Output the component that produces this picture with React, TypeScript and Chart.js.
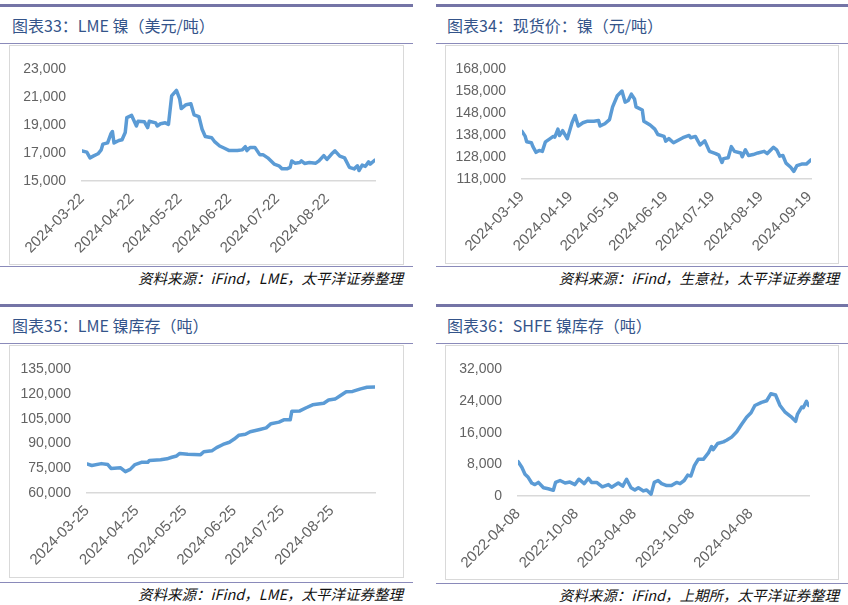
import React, { useEffect, useRef } from 'react';
import { Chart, registerables } from 'chart.js';
Chart.register(...registerables);

// ---------- Panel 33: LME nickel (USD/t) ----------
const lmeDates = ['2024-03-22','2024-03-25','2024-03-27','2024-03-29','2024-04-01','2024-04-03','2024-04-04','2024-04-07','2024-04-09','2024-04-10','2024-04-11','2024-04-14','2024-04-16','2024-04-18','2024-04-19','2024-04-22','2024-04-25','2024-04-26','2024-04-30','2024-05-02','2024-05-03','2024-05-07','2024-05-08','2024-05-10','2024-05-13','2024-05-15','2024-05-17','2024-05-20','2024-05-22','2024-05-23','2024-05-26','2024-05-29','2024-05-31','2024-06-03','2024-06-05','2024-06-07','2024-06-11','2024-06-13','2024-06-16','2024-06-19','2024-06-22','2024-06-27','2024-06-30','2024-07-02','2024-07-03','2024-07-05','2024-07-08','2024-07-11','2024-07-13','2024-07-16','2024-07-20','2024-07-23','2024-07-25','2024-07-28','2024-07-30','2024-07-31','2024-08-02','2024-08-05','2024-08-06','2024-08-08','2024-08-11','2024-08-15','2024-08-17','2024-08-20','2024-08-22','2024-08-25','2024-08-27','2024-08-30','2024-09-02','2024-09-05','2024-09-08','2024-09-10','2024-09-11','2024-09-13','2024-09-15','2024-09-17','2024-09-18','2024-09-21'];
const lmeValues = [17160,17070,16660,16780,16950,17230,17640,17730,18370,18550,17730,17900,17960,18480,19550,19700,18940,19280,19240,18830,19280,19170,18940,19100,19170,19060,21100,21490,20880,20190,20470,20540,19740,19620,18710,18190,18100,17800,17510,17350,17180,17180,17230,17460,17180,17410,17410,16890,16890,16660,16210,16090,15870,15870,15980,16440,16280,16320,16440,16260,16320,16280,16440,16820,16550,16950,17160,16780,16660,15980,15870,16090,15750,16140,16050,16370,16210,16500];
const lmeTicks = ['2024-03-22','2024-04-22','2024-05-22','2024-06-22','2024-07-22','2024-08-22'];

// ---------- Panel 34: spot price nickel (CNY/t) ----------
const spotDates = ['2024-03-19','2024-03-21','2024-03-22','2024-03-25','2024-03-26','2024-03-28','2024-03-30','2024-04-01','2024-04-03','2024-04-06','2024-04-08','2024-04-09','2024-04-11','2024-04-12','2024-04-14','2024-04-17','2024-04-20','2024-04-22','2024-04-24','2024-04-27','2024-04-30','2024-05-04','2024-05-07','2024-05-08','2024-05-11','2024-05-14','2024-05-16','2024-05-19','2024-05-22','2024-05-24','2024-05-26','2024-05-28','2024-05-30','2024-05-31','2024-06-04','2024-06-05','2024-06-09','2024-06-12','2024-06-14','2024-06-18','2024-06-19','2024-06-21','2024-06-24','2024-06-27','2024-06-30','2024-07-04','2024-07-05','2024-07-08','2024-07-11','2024-07-14','2024-07-17','2024-07-21','2024-07-23','2024-07-25','2024-07-26','2024-07-29','2024-07-31','2024-08-02','2024-08-06','2024-08-07','2024-08-09','2024-08-11','2024-08-14','2024-08-17','2024-08-21','2024-08-23','2024-08-27','2024-08-29','2024-08-31','2024-09-02','2024-09-04','2024-09-07','2024-09-09','2024-09-11','2024-09-14','2024-09-17','2024-09-20'];
const spotValues = [139700,137560,134960,134520,132780,130170,131040,130610,134960,136410,137420,137130,140750,137860,140030,136410,143650,146990,142200,143650,144380,144380,144670,142200,143220,145100,150900,155970,158140,153070,153800,156700,154520,150900,149450,144380,142640,140750,138290,137420,135250,136410,134520,135680,136840,137860,136840,137420,133510,135390,130610,129590,128870,125540,127280,127710,132780,130610,129880,128140,131330,128720,129160,129880,130610,129590,132490,131330,128430,128720,125240,123360,121480,124090,124810,124810,126700];
const spotTicks = ['2024-03-19','2024-04-19','2024-05-19','2024-06-19','2024-07-19','2024-08-19','2024-09-19'];

// ---------- Panel 35: LME nickel inventory (t) ----------
const invDates = ['2024-03-25','2024-03-28','2024-04-03','2024-04-07','2024-04-09','2024-04-15','2024-04-18','2024-04-21','2024-04-24','2024-04-28','2024-05-02','2024-05-03','2024-05-10','2024-05-14','2024-05-17','2024-05-20','2024-05-22','2024-05-27','2024-06-04','2024-06-06','2024-06-11','2024-06-14','2024-06-18','2024-06-22','2024-06-25','2024-06-28','2024-07-02','2024-07-05','2024-07-11','2024-07-15','2024-07-18','2024-07-23','2024-07-26','2024-07-30','2024-07-31','2024-08-05','2024-08-09','2024-08-13','2024-08-20','2024-08-23','2024-08-27','2024-08-30','2024-09-03','2024-09-07','2024-09-12','2024-09-16','2024-09-21'];
const invValues = [77640,76670,77830,77250,74920,75310,72980,74340,77250,78600,78600,79770,80160,80740,81710,82480,84030,83450,83260,85000,85580,87520,89460,90810,92750,95080,95660,97210,98570,99540,102060,103020,104380,104380,109610,109810,111740,113490,114460,116400,116980,118910,121430,121630,123180,124150,124340];
const invTicks = ['2024-03-25','2024-04-25','2024-05-25','2024-06-25','2024-07-25','2024-08-25'];

// ---------- Panel 36: SHFE nickel inventory (t) ----------
const shfeDates = ['2022-04-08','2022-04-20','2022-04-30','2022-05-10','2022-05-21','2022-05-31','2022-06-11','2022-06-27','2022-07-12','2022-07-28','2022-08-04','2022-08-18','2022-09-03','2022-09-18','2022-10-04','2022-10-16','2022-11-02','2022-11-15','2022-11-25','2022-12-11','2022-12-29','2023-01-17','2023-01-27','2023-02-17','2023-03-03','2023-03-15','2023-03-29','2023-04-10','2023-04-21','2023-05-07','2023-05-17','2023-05-31','2023-06-10','2023-06-22','2023-07-03','2023-07-19','2023-08-03','2023-08-19','2023-08-30','2023-09-12','2023-09-23','2023-10-03','2023-10-14','2023-10-26','2023-11-11','2023-11-27','2023-12-07','2023-12-12','2023-12-26','2024-01-13','2024-01-23','2024-02-08','2024-02-24','2024-03-10','2024-03-26','2024-04-09','2024-04-21','2024-05-12','2024-05-28','2024-06-10','2024-06-25','2024-07-09','2024-07-24','2024-08-12','2024-08-27','2024-09-02','2024-09-15','2024-09-20','2024-09-30','2024-10-07'];
const shfeValues = [8720,7280,5520,4720,3280,2880,3440,2080,1840,1440,3440,3920,3280,3520,2880,4240,3120,4480,3440,3440,2320,2880,2240,3280,2480,4240,2080,1520,2080,1280,1520,480,3440,3920,3120,2640,2640,3440,3120,3920,5280,5040,7680,9280,9280,10880,12480,11680,13280,13680,14080,14880,16240,18080,19920,21040,22880,23680,24080,25840,25520,22880,21280,20080,18880,20720,22480,22320,23920,22880];
const shfeTicks = ['2022-04-08','2022-10-08','2023-04-08','2023-10-08','2024-04-08'];

const DAY = 86400000;
const dayNum = (d: string) => {
  const [y, m, dd] = d.split('-').map(Number);
  return Date.UTC(y, m - 1, dd) / DAY;
};
const dayStr = (n: number) => new Date(Math.round(n) * DAY).toISOString().slice(0, 10);

const Y_FONT = { family: '"Liberation Sans", Arial, sans-serif', size: 14 };
const X_FONT = { family: '"Liberation Sans", Arial, sans-serif', size: 15 };
const TICK_COLOR = '#636363';

type Box = { left: number; top: number; right: number; bottom: number };

function LineChart(props: {
  dates: string[]; values: number[]; ticks: string[];
  xMin: string; xMax: string; yMin: number; yMax: number; yStep: number;
  box: Box; plot: Box;
}) {
  const ref = useRef<HTMLCanvasElement | null>(null);
  const { dates, values, ticks, xMin, xMax, yMin, yMax, yStep, box, plot } = props;
  const w = box.right - box.left;
  const h = box.bottom - box.top;
  useEffect(() => {
    if (!ref.current) return;
    const chart = new Chart(ref.current, {
      type: 'line',
      data: {
        datasets: [{
          data: dates.map((d, i) => ({ x: dayNum(d), y: values[i] })),
          borderColor: '#5B9BD5',
          borderWidth: 3.5,
          pointRadius: 0,
          tension: 0,
          fill: false,
          borderJoinStyle: 'round',
          borderCapStyle: 'round',
        }],
      },
      options: {
        animation: false,
        responsive: false,
        maintainAspectRatio: false,
        layout: { padding: { top: plot.top - box.top, right: box.right - plot.right, left: 0, bottom: 0 } },
        plugins: { legend: { display: false }, tooltip: { enabled: false } },
        scales: {
          x: {
            type: 'linear',
            min: dayNum(xMin),
            max: dayNum(xMax),
            grid: { display: false, drawTicks: false },
            border: { display: true, color: '#d9d9d9', width: 1.5 },
            afterBuildTicks: (s: any) => { s.ticks = ticks.map((t) => ({ value: dayNum(t) })); },
            afterFit: (s: any) => { s.height = box.bottom - plot.bottom; },
            ticks: {
              autoSkip: false, minRotation: 45, maxRotation: 45, padding: 9,
              color: TICK_COLOR, font: X_FONT,
              callback: (v: any) => dayStr(Number(v)),
            },
          },
          y: {
            min: yMin, max: yMax,
            grid: { display: false, drawTicks: false },
            border: { display: false },
            afterFit: (s: any) => { s.width = plot.left - box.left; },
            ticks: {
              stepSize: yStep, padding: 16, color: TICK_COLOR, font: Y_FONT,
              callback: (v: any) => Number(v).toLocaleString('en-US'),
            },
          },
        },
      } as any,
    });
    return () => chart.destroy();
  }, []);
  return (
    <>
      <canvas ref={ref} width={w} height={h}
        style={{ position: 'absolute', left: box.left, top: box.top, width: w, height: h }} />
      <div style={{ position: 'absolute', left: box.left, top: box.top, width: w - 2, height: h - 2, border: '1px solid #d9d9d9', pointerEvents: 'none' }} />
    </>
  );
}

function Frame(props: { x0: number; x1: number; y0: number; title: string; source: string; srcLineY: number; srcRight: number; titleX: number }) {
  const { x0, x1, y0, title, source, srcLineY, srcRight, titleX } = props;
  return (
    <>
      <div style={{ position: 'absolute', left: x0, top: y0 + 4, width: x1 - x0, height: 2.5, background: '#7474A6' }} />
      <div style={{ position: 'absolute', left: titleX, top: y0 + 13, height: 24, lineHeight: '24px', fontSize: 16, color: '#34548A', fontFamily: '"Noto Sans CJK SC", sans-serif', whiteSpace: 'nowrap' }}>{title}</div>
      <div style={{ position: 'absolute', left: x0, top: y0 + 43, width: x1 - x0, height: 1, background: '#8A8ABA' }} />
      <div style={{ position: 'absolute', left: x0, top: srcLineY, width: x1 - x0, height: 1, background: '#8A8ABA' }} />
      <div style={{ position: 'absolute', right: 848 - srcRight, top: srcLineY + 2, height: 20, lineHeight: '20px', fontSize: 14.5, fontStyle: 'italic', color: '#111', fontFamily: '"Noto Sans CJK SC", sans-serif', whiteSpace: 'nowrap' }}>{source}</div>
    </>
  );
}

export default function App() {
  return (
    <div style={{ position: 'absolute', left: 0, top: 0, width: 848, height: 605, background: '#fff', overflow: 'hidden' }}>
      <Frame x0={0} x1={413} y0={0} titleX={12} title="图表33：LME 镍（美元/吨）" source="资料来源：iFind，LME，太平洋证券整理" srcLineY={266} srcRight={403} />
      <Frame x0={436} x1={848} y0={0} titleX={447} title="图表34：现货价：镍（元/吨）" source="资料来源：iFind，生意社，太平洋证券整理" srcLineY={266} srcRight={839} />
      <Frame x0={0} x1={413} y0={300} titleX={12} title="图表35：LME 镍库存（吨）" source="资料来源：iFind，LME，太平洋证券整理" srcLineY={582} srcRight={403} />
      <Frame x0={436} x1={848} y0={300} titleX={447} title="图表36：SHFE 镍库存（吨）" source="资料来源：iFind，上期所，太平洋证券整理" srcLineY={583} srcRight={839} />

      <LineChart dates={lmeDates} values={lmeValues} ticks={lmeTicks} xMin="2024-03-22" xMax="2024-09-21"
        yMin={15000} yMax={23000} yStep={2000}
        box={{ left: 9, top: 45, right: 404, bottom: 265 }} plot={{ left: 82, top: 64, right: 375, bottom: 181 }} />
      <LineChart dates={spotDates} values={spotValues} ticks={spotTicks} xMin="2024-03-19" xMax="2024-09-20"
        yMin={118000} yMax={168000} yStep={10000}
        box={{ left: 445, top: 45, right: 839, bottom: 264 }} plot={{ left: 522, top: 64, right: 811, bottom: 179 }} />
      <LineChart dates={invDates} values={invValues} ticks={invTicks} xMin="2024-03-25" xMax="2024-09-21"
        yMin={60000} yMax={135000} yStep={15000}
        box={{ left: 9, top: 345, right: 404, bottom: 578 }} plot={{ left: 87, top: 364, right: 375, bottom: 493 }} />
      <LineChart dates={shfeDates} values={shfeValues} ticks={shfeTicks} xMin="2022-04-08" xMax="2024-10-08"
        yMin={0} yMax={32000} yStep={8000}
        box={{ left: 445, top: 345, right: 839, bottom: 580 }} plot={{ left: 518, top: 363, right: 809, bottom: 496 }} />
    </div>
  );
}
